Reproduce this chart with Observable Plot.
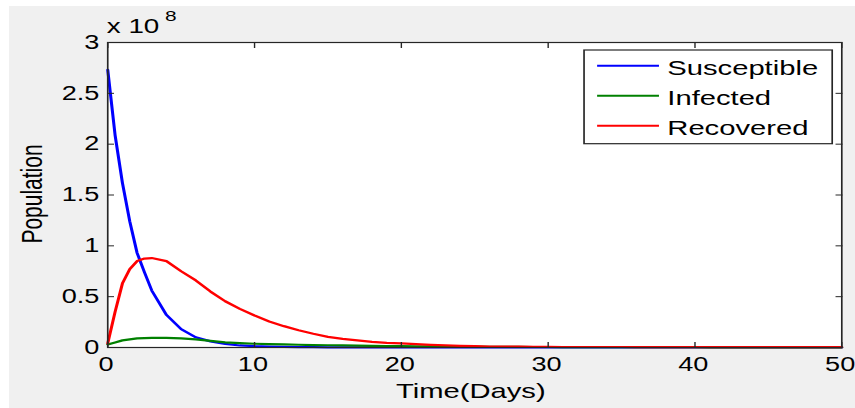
<!DOCTYPE html>
<html>
<head>
<meta charset="utf-8">
<script src="https://cdn.jsdelivr.net/npm/d3@7"></script>
<script src="https://cdn.jsdelivr.net/npm/@observablehq/plot@0.6"></script>
<style>
  html, body { margin: 0; padding: 0; background: #ffffff; }
  #wrap { position: relative; width: 855px; height: 408px; overflow: hidden; }
  #bg { position: absolute; left: 9px; top: 6px; width: 846px; height: 402px; background: #f0f0f0; }
  #chart { position: absolute; left: 0; top: 0; }
</style>
</head>
<body>
<div id="wrap"><div id="bg"></div><div id="chart"></div></div>
<script>
// ---- data (population in units of 1e8) ----
const time = [0, 0.5, 1, 1.5, 2, 2.5, 3, 4, 5, 6, 7, 8, 9, 10, 11, 12, 13, 14, 15, 16, 17, 18, 19, 20,
  21, 22, 23, 24, 25, 26, 27, 28, 29, 30, 31, 32, 33, 34, 35, 36, 37, 38, 39, 40,
  41, 42, 43, 44, 45, 46, 47, 48, 49, 50];
const susceptible = [2.73, 2.09, 1.62, 1.24, 0.93, 0.74, 0.56, 0.32, 0.18, 0.10, 0.06, 0.035, 0.02, 0.013, 0.009, 0.006, 0.004, 0.003, 0.002, 0.002, 0.002, 0.001, 0.001, 0.001,
  0.001, 0.001, 0.001, 0.001, 0.001, 0, 0, 0, 0, 0, 0, 0, 0, 0, 0, 0, 0, 0, 0, 0,
  0, 0, 0, 0, 0, 0, 0, 0, 0, 0];
const infected = [0.03, 0.05, 0.07, 0.08, 0.09, 0.093, 0.095, 0.095, 0.09, 0.08, 0.065, 0.05, 0.043, 0.037, 0.033, 0.03, 0.027, 0.024, 0.022, 0.02, 0.018, 0.016, 0.015, 0.013,
  0.012, 0.011, 0.01, 0.009, 0.008, 0.007, 0.006, 0.006, 0.005, 0.005, 0.004, 0.004, 0.004, 0.004, 0.004, 0.003, 0.003, 0.003, 0.003, 0.003,
  0.002, 0.002, 0.002, 0.002, 0.002, 0.002, 0.002, 0.002, 0.002, 0.002];
const recovered = [0.04, 0.35, 0.63, 0.77, 0.85, 0.875, 0.88, 0.85, 0.75, 0.66, 0.55, 0.455, 0.38, 0.315, 0.255, 0.21, 0.17, 0.135, 0.105, 0.085, 0.07, 0.056, 0.046, 0.04,
  0.034, 0.026, 0.02, 0.016, 0.013, 0.01, 0.009, 0.008, 0.007, 0.006, 0.005, 0.005, 0.005, 0.005, 0.005, 0.004, 0.004, 0.004, 0.004, 0.004,
  0.003, 0.003, 0.003, 0.003, 0.003, 0.003, 0.003, 0.003, 0.003, 0.003];
const seriesNames = ["Susceptible", "Infected", "Recovered"];
const seriesColors = ["#0000ff", "#008000", "#ff0000"];
const xTicks = [0, 10, 20, 30, 40, 50];
const yTicks = [0, 0.5, 1, 1.5, 2, 2.5, 3];
const yTickLabels = ["0", "0.5", "1", "1.5", "2", "2.5", "3"];
const xLabel = "Time(Days)";
const yLabel = "Population";

// ---- build table ----
const seriesValues = [susceptible, infected, recovered];
const rows = [];
seriesValues.forEach((vals, k) => {
  time.forEach((t, i) => rows.push({series: seriesNames[k], t, v: vals[i]}));
});

const W = 615, H = 408;
const FONT = "'Liberation Sans', Arial, Helvetica, sans-serif";

const svg = Plot.plot({
  width: W, height: H,
  marginLeft: 77, marginRight: 10, marginTop: 42, marginBottom: 61,
  x: {domain: [0, 50]},
  y: {domain: [0, 3]},
  style: {fontFamily: FONT, fontSize: "20px", background: "transparent", color: "#000", overflow: "visible"},
  marks: [
    Plot.frame({fill: "white", stroke: null}),
    ...seriesNames.map((name, k) =>
      Plot.line(rows.filter(d => d.series === name), {x: "t", y: "v", stroke: seriesColors[k], strokeWidth: 2.2})
    ),
    Plot.axisX({anchor: "bottom", ticks: xTicks, tickSize: -5, tickFormat: () => "", label: null, stroke: "#262626"}),
    Plot.axisX({anchor: "top", ticks: xTicks, tickSize: -5, tickFormat: () => "", label: null, stroke: "#262626"}),
    Plot.axisY({anchor: "left", ticks: yTicks, tickSize: -5, tickFormat: () => "", label: null, stroke: "#262626"}),
    Plot.axisY({anchor: "right", ticks: yTicks, tickSize: -5, tickFormat: () => "", label: null, stroke: "#262626"}),
    Plot.axisX({anchor: "bottom", ticks: xTicks, tickSize: 0, tickPadding: 10, dx: -1.2, fontSize: 19.5, label: null, tickFormat: d => String(d), fill: "#000"}),
    Plot.axisY({anchor: "left", ticks: yTicks, tickSize: 0, tickPadding: 6, fontSize: 19.5, label: null, tickFormat: d => yTickLabels[yTicks.indexOf(d)], fill: "#000"}),
    Plot.frame({stroke: "#262626", strokeWidth: 1.2})
  ]
});

// horizontal stretch like the reference
svg.setAttribute("viewBox", `0 0 ${W} ${H}`);
svg.setAttribute("width", 855);
svg.setAttribute("height", 408);
svg.setAttribute("preserveAspectRatio", "none");
svg.style.width = "855px";
svg.style.height = "408px";
svg.style.maxWidth = "none";

const s = d3.select(svg);
// axis labels
s.append("text").attr("x", 338.7).attr("y", 398.3).attr("text-anchor", "middle")
  .attr("font-family", FONT).attr("font-size", 21).attr("fill", "#000").text(xLabel);
s.append("text").attr("transform", "translate(30,194) rotate(-90)").attr("text-anchor", "middle")
  .attr("font-family", FONT).attr("font-size", 21).attr("fill", "#000").text(yLabel);
// exponent
s.append("text").attr("x", 76.8).attr("y", 33.3).attr("text-anchor", "start").attr("font-family", FONT).attr("font-size", 20).attr("fill", "#000").text("x 10");
s.append("text").attr("x", 118.7).attr("y", 21.5).attr("text-anchor", "start").attr("font-family", FONT).attr("font-size", 15).attr("fill", "#000").text("8");
// legend
const lg = s.append("g");
lg.append("rect").attr("x", 420.1).attr("y", 50).attr("width", 178.5).attr("height", 93.7)
  .attr("fill", "white").attr("stroke", "#262626").attr("stroke-width", 1.2);
seriesNames.forEach((name, k) => {
  const yy = 65.7 + 30 * k;
  lg.append("line").attr("x1", 429.5).attr("x2", 474).attr("y1", yy).attr("y2", yy)
    .attr("stroke", seriesColors[k]).attr("stroke-width", 2);
  lg.append("text").attr("x", 480).attr("y", yy + 9.3).attr("text-anchor", "start").attr("font-family", FONT).attr("font-size", 21)
    .attr("fill", "#000").text(name);
});

document.getElementById("chart").appendChild(svg);
</script>
</body>
</html>
